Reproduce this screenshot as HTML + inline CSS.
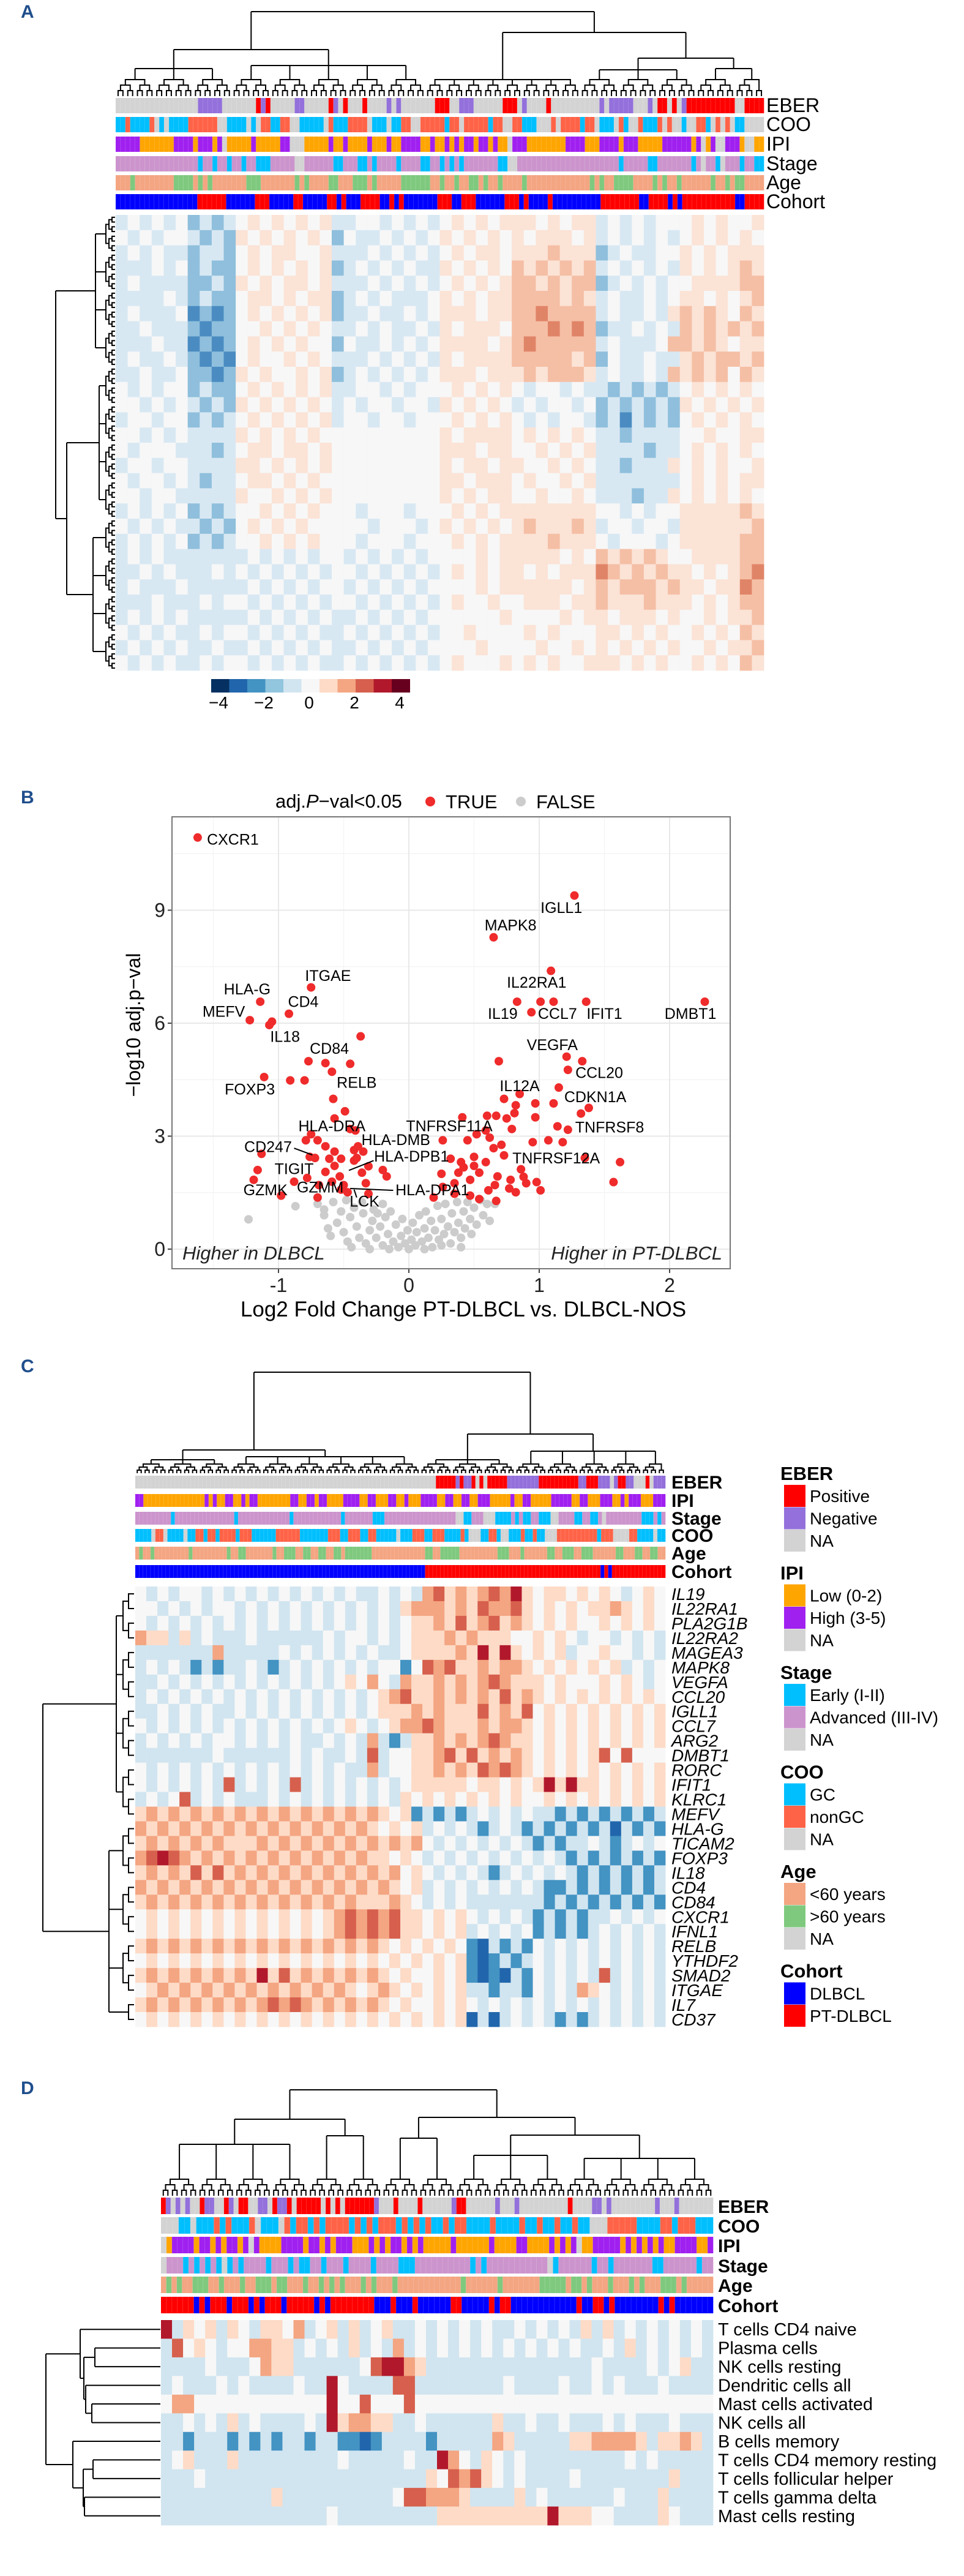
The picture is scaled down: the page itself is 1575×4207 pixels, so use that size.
<!DOCTYPE html>
<html><head><meta charset="utf-8">
<style>
html,body{margin:0;padding:0;background:#fff;}
svg{display:block;font-family:"Liberation Sans",Arial,sans-serif;}
</style></head>
<body>
<svg id="fig" width="1575" height="4207" viewBox="0 0 1575 4207" xmlns="http://www.w3.org/2000/svg">
<rect x="0" y="0" width="1575" height="4207" fill="#fff"/>
</svg>
<script>
// ================= DATA =================
const aEBER="g17 p5 g7 r1 p1 r1 g5 p2 g5 r1 p1 g1 r1 g3 r1 g4 p1 g1 p1 g7 r3 g2 p3 g6 r3 g1 p1 g4 r1 g10 p1 g1 p5 g3 p1 g1 r2 g1 r1 g1 p1 r10 g2 r4";
const aCOO="c2 o1 c4 o1 g1 c1 g1 c4 o6 g2 c4 g1 c1 g1 o2 c2 o2 g2 c5 g1 o1 c3 o4 g1 c3 g1 c2 o2 g2 o5 c1 o2 g1 o5 c1 o2 g2 o2 c3 g3 o1 g1 o4 c1 o2 g1 c3 g1 o1 c1 g2 o1 c3 o1 g1 o1 g2 c1 g2 o2 c1 g1 o1 g1 o1 g1 c2 g4";
const aIPI="h5 l7 h4 l1 h3 l1 h1 g1 l5 h1 l5 h2 g3 l5 h1 l2 h1 l4 h1 l3 h1 l2 h4 l2 h1 l2 h1 l1 h1 l1 h2 l1 h2 l1 h1 l2 g1 h3 l8 h4 l3 h4 l1 h3 l5 h6 l1 h1 g1 l1 h1 g2 h3 l1 g2 l2";
const aStage="a17 e1 a2 e1 a2 e1 a2 e1 a2 e3 a5 g2 a6 e2 a3 e2 a1 e1 a4 e1 a4 e2 a2 e1 a1 e1 a1 e1 a7 e2 g2 a21 e1 a5 e2 a7 e1 a1 g1 a2 e1 g1 a3 e1 a2 e2";
const aAge="y3 o1 y8 o4 y1 o1 y1 o1 y7 o3 y7 o1 y1 o1 y4 o2 y3 o3 y1 o1 y5 o6 y2 o1 y2 o1 y2 o2 y1 o1 y2 o1 y4 o1 y13 o1 y1 o1 y2 o4 y4 o1 y1 o1 y2 o1 y6 o1 y2 o1 y1 o2 y4";
const aCohort="b17 r6 b6 r3 b5 r2 b5 r2 b1 r1 b3 r4 b2 r1 b1 r1 b7 r3 b2 r3 b6 r3 b1 r1 b4 r1 b10 r8 b2 r4 b1 r1 b1 r11 b2 r4";
const aHeat=[
"343434232345454545334434343454545554545534343444545 45",
"434344323254545454243343434545454545554534343434545454",
"343433233245455445333434343454554555655523433445454555",
"333434232245454545234343433545454656565634343435454565",
"343333223254545545333434343454545665656623434344555566",
"333343232245545455234343334545455666656534334345545456",
"343334121245454545233433434555455667666634334356565 65",
"334333212244545454334343343545554666767623343436565656",
"333433121245454544243343434555545676666634333466565 55",
"343343212145445454333434343545555666665624334335656656",
"334334221254544545234343434555455565666534334365656 65",
"434344232245454545334434344454545434434332323234545454",
"443434323254545454343443443545454343443423232325454545",
"344344232345454545344344344454545434344323132324545454",
"443434333354545454444444444545555454545433233334454455",
"434443332345545545444444444555455445454533332334545454",
"344344333355454545444444444545545544545433233354545445",
"434434323345545454444444444554555454454533333334545455",
"443443333354454545444444444545455445445433323354545454",
"343434232344545454443444344454545555555544343445555565",
"434343323245454544444344434545454565556534434435555556",
"343434232344545454443444344454545555655543444345555566",
"343433333334343434434343434444545555545465656544555566",
"334343334343434343443434343454545545455576565655454567",
"343334333334343434434343434444545555554565666565545576",
"333433343443434343443434343454454455545565556555454566",
"343434333334343434334343434444445444454554555454454556",
"434343343443434343343434343445444454544455454544545465",
"343434334334343434334343434444544445445454545454454556",
"434343343443434343343434343454445454544555454544545465"];
const colorbarTicks=[-4,-2,0,2,4];

const sigX=[-1.62,1.27,0.65,1.09,-0.75,-1.14,-0.92,-1.22,-1.07,-1.05,0.83,1.01,1.11,1.36,2.27,0.94,-0.37,-0.77,-0.64,-0.45,-0.59,-1.11,-0.91,-0.80,-0.58,-0.49,-0.57,1.21,1.33,0.69,1.22,1.15,0.85,0.73,0.97,1.11,0.82,1.38,1.32,0.81,0.97,0.75,0.41,0.60,0.67,0.79,1.22,1.14,1.62,1.57,1.35,0.95,1.07,1.18,0.26,0.45,0.62,0.71,0.65,0.59,0.52,0.73,0.86,0.88,0.98,1.01,0.90,0.78,0.66,0.77,0.82,0.61,0.54,0.47,0.38,0.32,0.40,0.50,0.59,0.25,0.35,0.26,0.19,0.35,0.47,0.54,0.67,0.42,0.50,0.68,-0.79,-0.75,-0.70,-0.64,-0.57,-0.52,-0.42,-0.39,-0.35,-0.45,-0.41,-1.13,-1.16,-1.19,-0.98,-0.88,-0.76,-0.72,-0.61,-0.57,-0.64,-0.53,-0.42,-0.40,-0.36,-0.31,-0.20,-0.17,-0.78,-0.69,-0.59,-0.50,-0.33,-0.47,-0.70,-0.31,-0.52];
const sigY=[10.93,9.39,8.28,7.39,6.95,6.57,6.25,6.08,5.95,6.04,6.57,6.57,6.57,6.57,6.57,6.29,5.65,4.99,4.94,4.92,4.71,4.57,4.48,4.48,3.99,3.66,3.47,5.11,4.99,4.99,4.76,4.29,4.12,3.99,3.87,3.87,3.82,3.75,3.60,3.61,3.50,3.47,3.50,3.54,3.54,3.19,3.17,3.26,2.31,1.78,2.42,2.84,2.89,2.84,2.89,2.89,2.96,2.77,2.68,3.15,3.05,2.49,2.12,1.92,1.78,1.56,1.75,1.84,1.70,1.61,1.51,1.56,2.03,1.84,2.03,2.40,2.31,2.45,2.31,2.00,1.75,1.65,1.37,1.47,1.42,1.33,1.28,2.17,2.21,1.93,2.89,3.05,2.89,2.73,2.59,2.40,2.63,2.73,2.59,3.19,3.15,2.53,2.10,1.84,1.42,1.79,2.45,2.42,2.40,2.21,2.05,1.93,2.35,2.42,2.03,2.20,2.10,1.93,1.89,1.70,1.79,1.70,1.75,1.51,1.37,1.47,1.58];
const nsX=[-1.23,-0.87,-0.62,-0.60,-0.55,-0.52,-0.50,-0.47,-0.45,-0.42,-0.40,-0.38,-0.35,-0.33,-0.30,-0.28,-0.27,-0.25,-0.22,-0.20,-0.18,-0.16,-0.14,-0.12,-0.10,-0.08,-0.06,-0.05,-0.03,-0.01,0.00,0.02,0.03,0.05,0.06,0.08,0.10,0.12,0.13,0.15,0.17,0.18,0.20,0.22,0.23,0.25,0.27,0.28,0.30,0.32,0.33,0.35,0.37,0.38,0.40,0.42,0.43,0.45,0.47,0.48,0.50,0.52,0.55,0.57,0.60,0.62,0.66,-0.58,-0.65,-0.70,-0.48,-0.36,-0.20,-0.44,-0.15,0.12,0.25,-0.30,0.40,-0.65,-0.24];
const nsY=[0.79,1.14,0.55,0.35,0.70,1.00,0.45,0.20,0.85,1.10,0.60,0.30,0.95,0.15,0.50,0.75,1.05,0.30,0.60,0.10,0.85,0.40,1.00,0.20,0.65,0.05,0.35,0.80,0.15,0.50,0.00,0.25,0.70,0.10,0.45,0.90,0.20,0.55,1.00,0.30,0.75,0.05,0.50,1.15,0.25,0.80,0.40,1.20,0.60,0.15,0.95,0.45,1.25,0.70,0.30,1.00,0.55,1.25,0.80,0.40,1.10,0.65,1.30,0.90,1.20,0.75,1.20,1.25,0.90,1.20,1.30,1.25,1.20,0.05,0.00,0.00,0.10,0.00,0.05,1.05,0.95];
const lblNames=["CXCR1","IGLL1","MAPK8","IL22RA1","ITGAE","HLA-G","CD4","MEFV","IL18","IL19","CCL7","IFIT1","DMBT1","CD84","VEGFA","CCL20","FOXP3","RELB","IL12A","CDKN1A","HLA-DRA","TNFRSF11A","TNFRSF8","HLA-DMB","CD247","HLA-DPB1","TNFRSF12A","TIGIT","GZMK","GZMM","HLA-DPA1","LCK"];
const lblX=[-1.35,1.17,0.78,0.98,-0.62,-1.24,-0.81,-1.42,-0.95,0.72,1.14,1.50,2.16,-0.61,1.10,1.46,-1.22,-0.40,0.85,1.43,-0.59,0.31,1.54,-0.10,-1.08,0.02,1.13,-0.88,-1.10,-0.68,0.18,-0.34];
const lblY=[10.89,9.07,8.61,7.09,7.27,6.91,6.58,6.32,5.65,6.26,6.26,6.26,6.26,5.33,5.43,4.69,4.25,4.43,4.34,4.05,3.28,3.28,3.24,2.91,2.72,2.47,2.42,2.14,1.58,1.65,1.58,1.28];
const leadX1=[-0.88,-0.27,-0.12,-0.40], leadY1=[2.68,2.35,1.56,1.37];
const leadX2=[-0.74,-0.46,-0.45,-0.42], leadY2=[2.50,2.09,1.61,1.58];
const xMajor=[-1,0,1,2], xMinor=[-1.5,-0.5,0.5,1.5];
const yMajor=[0,3,6,9], yMinor=[1.5,4.5,7.5,10.5];

const cEBER="g76 r5 p1 r1 p2 r1 g1 r1 g1 r5 p2 p6 r10 p2 r3 p3 g1 p1 r2 p2 g3 r1 g1 p3";
const cIPI="h2 l15 h1 l1 h1 l2 h2 l2 h1 l1 h2 l3 l5 h2 l2 h2 l1 h2 l4 h4 l2 h2 l3 h2 l2 h1 l3 h4 l2 h2 l2 h2 l2 h3 l2 l3 h1 l2 h2 l5 h5 l2 h2 l3 h3 l2 h1 l1 h3 l3 h3";
const cStage="a9 e1 a15 e1 a13 e1 a12 e1 a7 e3 a18 g2 e2 a3 g3 e4 a1 e1 a1 e2 a2 e3 g2 a4 e2 a2 e2 a1 g1 a9 e3 a1 e1 a1";
const cCOO="c4 g1 o2 g1 c4 g1 c2 o2 c1 o2 c1 o4 c1 o3 c6 o6 c7 o3 c1 c1 o3 c2 o2 c3 c2 g1 c3 o3 c2 o3 c4 o1 c1 g3 c2 o2 c1 g2 c3 o1 c2 o1 c2 g3 o10 c1 o3 g4 o2 c1 c3 g1 c2";
const cAge="y1 o1 y2 o1 y9 o1 y9 o1 y2 o2 y7 o1 y2 o3 y2 o2 y2 o2 y2 o2 y1 o7 y14 o2 y2 o5 y10 o3 y3 o1 y6 o2 y2 o3 y2 o3 y6 o2 y3 o2 y2 o2 y2";
const cCohort="b76 r46 b1 r1 b1 r14";
const cGenes=["IL19","IL22RA1","PLA2G1B","IL22RA2","MAGEA3","MAPK8","VEGFA","CCL20","IGLL1","CCL7","ARG2","DMBT1","RORC","IFIT1","KLRC1","MEFV","HLA-G","TICAM2","FOXP3","IL18","CD4","CD84","CXCR1","IFNL1","RELB","YTHDF2","SMAD2","ITGAE","IL7","CD37"];
const cHeat=[
"434344343434343434343343436756567685455454543454",
"443434344343434343434343566656576675454545565454",
"434343434343434343434343455657567565454544545454",
"655353433343333334344343455565655544545434434343",
"333333363333343434343433455556585854545344544343",
"343432323343234343434344247675565665454545453434",
"334343434343434343454643655656567655545444545434",
"343434343434343434343456755656565756545454545454",
"334343433434343434343455565655575657454545454545",
"434343434343434343454345667655565665454545454545",
"343434344343434334343632355656567655454545454545",
"333333343333334343343734455675756565454545747444",
"434343434343434343433634455656576765454545454545",
"434343437343437343434343455555455454585855454545",
"343473434333434343434343545454545454454545454545",
"565656565656565656565654523232343434332323232323",
"656565656565656565656545453434323432323232313232",
"565656565556565656565656564343434343232334323434",
"678765656565656565656554543434343434343232323232",
"565657575656565656565656454343432343434323232323",
"656565656565656565656565453434343434322323232323",
"565656565656565656565556543434333333323232323232",
"454545454545454545676767554545434343232323343434",
"454545454545454545676767554545343434232323434343",
"565656565656565656565654545454213232434343434343",
"454545454545454545454545454545212323434343434343",
"565656565658575656565654544545212132434343734343",
"456565656565656565654565454545332332434365434343",
"565656565656767656565654544545434343434343434343",
"454545454545454545454545454545131343432323434343"];
const legTitles=["EBER","IPI","Stage","COO","Age","Cohort"];
const legLabels=[["Positive","Negative","NA"],["Low (0-2)","High (3-5)","NA"],["Early (I-II)","Advanced (III-IV)","NA"],["GC","nonGC","NA"],["<60 years",">60 years","NA"],["DLBCL","PT-DLBCL"]];
const legColors=[["#ff0000","#9370db","#d3d3d3"],["#ffa500","#a020f0","#d3d3d3"],["#00bfff","#cc94cc","#d3d3d3"],["#00bfff","#ff6347","#d3d3d3"],["#f4a582","#7fc97f","#d3d3d3"],["#0000ff","#ff0000"]];

const dEBER="r1 p1 g1 p1 g1 p1 g2 r1 p2 g2 r1 p1 g1 r2 g2 p2 g1 r1 p2 r1 g1 r5 g1 r1 g1 r1 g1 r6 p1 g3 r1 g4 r1 g6 p1 r2 g6 p1 g3 p1 g10 r1 g4 p2 g1 p1 g9 p1 g3 p1 g7";
const dCOO="g3 c2 g1 c3 o1 c1 o1 c3 o1 g1 c3 g1 o1 c1 o2 c1 o1 c1 o4 c1 o1 c1 o1 c1 o3 c1 o1 c1 o1 c1 o1 c2 o1 c1 o2 c1 c3 o1 c4 o1 c2 o1 c2 o1 c2 o1 c2 g3 o5 c4 o2 c1 o3 c2 c1";
const dIPI="g1 l1 h4 l1 h2 l1 h1 l1 h2 l1 h1 g1 h1 l4 h4 l1 h2 l1 h1 l1 h3 l3 h1 l1 h1 l1 h2 l1 h1 l1 h1 l5 h1 l6 h1 l4 h2 l4 h1 l1 h1 l1 h1 g1 l2 h5 l1 h1 l1 h1 l1 h1 l1 h1 l2 h4 l2 h1";
const dStage="g1 a3 e1 a1 e1 a1 e1 a1 e1 g1 e1 a1 e1 a4 e1 a3 e1 a1 e2 a2 e1 a3 e1 a1 a3 e1 a4 e3 a10 e1 a1 e1 a11 g1 e1 a6 e1 a2 e1 a7 e2 a6 e1 a2";
const dAge="y1 o1 y1 o1 y2 o3 y2 o1 y3 o1 y2 o3 y1 o2 y3 o1 y2 o1 y1 o1 y1 o1 y3 o1 y1 o1 y3 o1 y12 o1 y6 o1 y7 o5 y1 o2 y1 o1 y3 o1 y3 o1 y1 o1 y3 o3 y1 o1 y5";
const dCohort="r6 b1 r1 b1 r3 b1 r3 b1 r1 b1 r3 b1 r5 b1 r1 b1 r8 b3 r1 b3 r1 b6 r2 b5 r1 b1 r2 b10 b2 r1 b2 r2 b1 r1 b8 r1 b1 r1 b7";
const dCells=["T cells CD4 naive","Plasma cells","NK cells resting","Dendritic cells all","Mast cells activated","NK cells all","B cells memory","T cells CD4 memory resting","T cells follicular helper","T cells gamma delta","Mast cells resting"];
const dHeat=[
"83545354355463453534533434343433434343535343434343",
"37454344665534343534363434343434343434334353434343",
"33334333465533333347886533333333333333343333434533",
"34333434333343384333377333333334333343343433343333",
"46644444444444484474447444444444444444444444444444",
"33434353433334385665533433333353343343334343334333",
"33233323232332332212333323333365333335566665355653",
"34533353333333334333334338643543433333333343433333",
"33343333333333333333333354767543433334333333335333",
"33333333335333333333347766653333534333333433353333",
"33333333333333343333333335555555555855544333354333"];

// ================= HELPERS =================
const NS="http://www.w3.org/2000/svg";
const svg=document.getElementById("fig");
const PAL={"0":"#053061","1":"#2166ac","2":"#4393c3","3":"#d1e5f0","4":"#f7f7f7","5":"#fddbc7","6":"#f4a582","7":"#d6604d","8":"#b2182b","9":"#67001f"," ":"#f7f7f7"};
const PAL_A={"0":"#053061","1":"#4a8cc2","2":"#8fbfdc","3":"#d8e8f3","4":"#f7f7f7","5":"#fbe3d6","6":"#f5bfa5","7":"#e08468","8":"#b2182b","9":"#67001f"," ":"#f7f7f7"};
const CM={EBER:{r:"#ff0000",p:"#9370db",g:"#d3d3d3"},COO:{c:"#00bfff",o:"#ff6347",g:"#d3d3d3"},IPI:{l:"#ffa500",h:"#a020f0",g:"#d3d3d3"},Stage:{e:"#00bfff",a:"#cc94cc",g:"#d3d3d3"},Age:{y:"#f4a582",o:"#7fc97f",g:"#d3d3d3"},Cohort:{b:"#0000ff",r:"#ff0000"}};
function mk(tag,parent){const e=document.createElementNS(NS,tag);(parent||svg).appendChild(e);return e;}
function at(e,o){for(const k in o)e.setAttribute(k,o[k]);return e;}
function runs(s){const out=[];s.trim().split(/\s+/).forEach(t=>{const c=t[0],n=+t.slice(1);for(let i=0;i<n;i++)out.push(c);});return out;}
function group(name){const g=mk("g");return g;}
function text(g,s,x,y,size,extra){const t=mk("text",g);at(t,{x:x,y:y,"font-size":size,fill:"#000"});if(extra)at(t,extra);t.textContent=s;return t;}

function drawAnnot(g,str,cmap,x0,x1,y,h,name){
  const codes=runs(str);const cw=(x1-x0)/codes.length;let i=0;
  while(i<codes.length){let j=i;while(j<codes.length&&codes[j]===codes[i])j++;
    const r=mk("rect",g);at(r,{x:x0+i*cw,y:y,width:(j-i)*cw+0.3,height:h,fill:cmap[codes[i]]||"#d3d3d3"});
    
    
    i=j;}
  for(let k=1;k<codes.length;k++){const l=mk("line",g);at(l,{x1:x0+k*cw,x2:x0+k*cw,y1:y,y2:y+h,stroke:"#fff","stroke-opacity":0.25,"stroke-width":0.6});
    
    }
  return codes.length;
}
function drawHeat(g,rows,x0,x1,y0,y1,pal){
  const rh=(y1-y0)/rows.length;
  rows.forEach((row,r)=>{const cw=(x1-x0)/row.length;
    for(let c=0;c<row.length;c++){const e=mk("rect",g);at(e,{x:x0+c*cw,y:y0+r*rh,width:cw+0.4,height:rh+0.4,fill:(pal||PAL)[row[c]]});
      
      }});
}
function seg(g,d){const p=mk("path",g);at(p,{d:d,fill:"none",stroke:"#000","stroke-width":2});
  
  }
function pt(horiz,p,d){return horiz?(d+" "+p):(p+" "+d);}
function comb(g,a0,a1,n,base,levels,step,horiz,dir){
  const cw=(a1-a0)/n;let nodes=[];for(let i=0;i<n;i++)nodes.push({p:a0+(i+0.5)*cw,d:base});
  let path="";
  for(let l=0;l<levels;l++){const nd=base-dir*step*(l+1);const nx=[];
    for(let i=0;i<nodes.length;i+=2){
      if(i+1<nodes.length){const A=nodes[i],B=nodes[i+1];
        path+="M"+pt(horiz,A.p,A.d)+"L"+pt(horiz,A.p,nd)+"L"+pt(horiz,B.p,nd)+"L"+pt(horiz,B.p,B.d);
        nx.push({p:(A.p+B.p)/2,d:nd});}
      else nx.push(nodes[i]);}
    nodes=nx;}
  seg(g,path);return nodes;
}
function join(g,nodes,target,horiz){
  let path="";let mn=1e9,mx=-1e9;
  nodes.forEach(n=>{path+="M"+pt(horiz,n.p,n.d)+"L"+pt(horiz,n.p,target);mn=Math.min(mn,n.p);mx=Math.max(mx,n.p);});
  path+="M"+pt(horiz,mn,target)+"L"+pt(horiz,mx,target);seg(g,path);
  return {p:(mn+mx)/2,d:target};
}
function pick(nodes,lo,hi){return nodes.filter(n=>n.p>=lo&&n.p<hi);}

[["A",29],["B",1312],["C",2241],["D",3420]].forEach(([s,y])=>{
  const t=text(svg,s,34,y,30,{"font-weight":"bold",fill:"#1f4e8c"});
  
  
});

// ================= PANEL A =================
(function(){
  const g=group("panel-a-heatmap");
  const X0=189,X1=1248;
  const dg=group("panel-a-column-dendrogram");
  const leaves=comb(dg,X0,X1,134,157,3,9,false,1);
  const LL=join(dg,pick(leaves,0,370),112,false);
  const LR=join(dg,pick(leaves,370,700),107,false);
  const L=join(dg,[LL,LR],81,false);
  const R1=join(dg,pick(leaves,700,960),130,false);
  const R2a=join(dg,pick(leaves,960,1110),114,false);
  const R2b=join(dg,pick(leaves,1110,2000),112,false);
  const R2=join(dg,[R2a,R2b],95,false);
  const R=join(dg,[R1,R2],53,false);
  join(dg,[L,R],19,false);
  const names=["EBER","COO","IPI","Stage","Age","Cohort"];
  const strs=[aEBER,aCOO,aIPI,aStage,aAge,aCohort];
  const ys=[160,191,223,255,286,317];
  names.forEach((n,i)=>{
    const ag=group("panel-a-annotation-"+n.toLowerCase());
    drawAnnot(ag,strs[i],CM[n],X0,X1,ys[i],25,"panel-a-"+n.toLowerCase());
    const t=text(svg,n,1252,ys[i]+23,32);
    
    
  });
  drawHeat(g,aHeat,X0,X1,351,1095,PAL_A);
  const rg=group("panel-a-row-dendrogram");
  const rn=comb(rg,351,1095,96,188,3,5,true,1);
  const G1=join(rg,pick(rn,0,620),156,true);
  const G2=join(rg,pick(rn,620,850),162,true);
  const G3=join(rg,pick(rn,850,2000),152,true);
  const G23=join(rg,[G2,G3],109,true);
  join(rg,[G1,G23],91,true);
  const cb=group("panel-a-colorbar");
  const cbCols=["#053061","#2166ac","#4393c3","#92c5de","#d1e5f0","#f7f7f7","#fddbc7","#f4a582","#d6604d","#b2182b","#67001f"];
  cbCols.forEach((c,i)=>{const r=mk("rect",cb);at(r,{x:345+i*29.5,y:1109,width:30,height:22,fill:c});
    
    });
  colorbarTicks.forEach(v=>{const t=text(cb,(v<0?"\u2212":"")+Math.abs(v),505+37*v,1157,28,{"text-anchor":"middle"});
    
    });
})();

// ================= PANEL B =================
(function(){
  const xS=d=>668+213*d, yS=d=>2040-61.5*d;
  const L=281,R=1193,T=1334,B=2072;
  const g=group("panel-b-volcano");
  xMinor.forEach(v=>{const l=mk("line",g);at(l,{x1:xS(v),x2:xS(v),y1:T,y2:B,stroke:"#f3f3f3","stroke-width":1.2});
    
    });
  yMinor.forEach(v=>{const l=mk("line",g);at(l,{x1:L,x2:R,y1:yS(v),y2:yS(v),stroke:"#f3f3f3","stroke-width":1.2});
    
    });
  xMajor.forEach(v=>{const l=mk("line",g);at(l,{x1:xS(v),x2:xS(v),y1:T,y2:B,stroke:"#e8e8e8","stroke-width":2});
    
    
    const tk=mk("line",g);at(tk,{x1:xS(v),x2:xS(v),y1:B,y2:B+7,stroke:"#444","stroke-width":2});
    
    
    const t=text(g,v<0?"-"+Math.abs(v):String(v),xS(v),2110,32,{"text-anchor":"middle",fill:"#222"});
    
    });
  yMajor.forEach(v=>{const l=mk("line",g);at(l,{x1:L,x2:R,y1:yS(v),y2:yS(v),stroke:"#e8e8e8","stroke-width":2});
    
    
    const tk=mk("line",g);at(tk,{x1:L-7,x2:L,y1:yS(v),y2:yS(v),stroke:"#444","stroke-width":2});
    
    
    const t=text(g,String(v),270,yS(v)+11,32,{"text-anchor":"end",fill:"#222"});
    
    });
  nsX.forEach((x,i)=>{const c=mk("circle",g);at(c,{cx:xS(x),cy:yS(nsY[i]),r:7,fill:"#cccccc"});
    
    });
  sigX.forEach((x,i)=>{const c=mk("circle",g);at(c,{cx:xS(x),cy:yS(sigY[i]),r:7,fill:"#ef2b2b"});
    
    });
  leadX1.forEach((x,i)=>{const l=mk("line",g);at(l,{x1:xS(x),y1:yS(leadY1[i]),x2:xS(leadX2[i]),y2:yS(leadY2[i]),stroke:"#000","stroke-width":2});
    
    });
  lblNames.forEach((n,i)=>{const t=text(g,n,xS(lblX[i]),yS(lblY[i])+9,25,{"text-anchor":"middle"});
    
    });
  const box=mk("rect",g);at(box,{x:L,y:T,width:R-L,height:B-T,fill:"none",stroke:"#777","stroke-width":2});
  
  
  const h1=text(g,"Higher in DLBCL",298,2057,31,{"font-style":"italic","fill":"#222"});
  
  
  const h2=text(g,"Higher in PT-DLBCL",1180,2057,31,{"font-style":"italic","text-anchor":"end","fill":"#222"});
  
  
  const xt=text(g,"Log2 Fold Change PT-DLBCL vs. DLBCL-NOS",757,2150,35,{"text-anchor":"middle"});
  
  
  const yt=text(g,"\u2212log10 adj.p\u2212val",0,0,32,{"text-anchor":"middle",transform:"translate(229,1674) rotate(-90)"});
  
  
  const lg=group("panel-b-legend");
  const lt=mk("text",lg);at(lt,{x:450,y:1319,"font-size":31});
  
  
  lt.innerHTML='adj.<tspan font-style="italic">P</tspan>\u2212val&lt;0.05';
  const d1=mk("circle",lg);at(d1,{cx:703,cy:1309,r:8,fill:"#ef2b2b"});
  
  
  const t1=text(lg,"TRUE",728,1320,31);
  
  
  const d2=mk("circle",lg);at(d2,{cx:851,cy:1309,r:8,fill:"#cccccc"});
  
  
  const t2=text(lg,"FALSE",876,1320,31);
  
  
})();

// ================= PANEL C =================
(function(){
  const X0=221,X1=1087;
  const dg=group("panel-c-column-dendrogram");
  const lv=comb(dg,X0,X1,134,2406,3,5,false,1);
  const LL=join(dg,pick(lv,0,400),2384,false);
  const LR=join(dg,pick(lv,400,693),2379,false);
  const L=join(dg,[LL,LR],2368,false);
  const RL=join(dg,pick(lv,693,830),2384,false);
  const RR=join(dg,pick(lv,830,2000),2370,false);
  const Rn=join(dg,[RL,RR],2342,false);
  join(dg,[L,Rn],2241,false);
  const names=["EBER","IPI","Stage","COO","Age","Cohort"];
  const strs=[cEBER,cIPI,cStage,cCOO,cAge,cCohort];
  const ys=[2410,2440,2469,2497,2526,2556];
  names.forEach((n,i)=>{
    const ag=group("panel-c-annotation-"+n.toLowerCase());
    drawAnnot(ag,strs[i],CM[n],X0,X1,ys[i],21,"panel-c-"+n.toLowerCase());
    const t=text(svg,n,1097,ys[i]+21,30,{"font-weight":"bold"});
    
    
  });
  const hg=group("panel-c-heatmap");
  drawHeat(hg,cHeat,X0,X1,2591,3310);
  const rh=(3310-2591)/cGenes.length;
  cGenes.forEach((n,i)=>{const t=text(svg,n,1097,2591+rh*(i+0.5)+10,28,{"font-style":"italic"});
    
    });
  const rg=group("panel-c-row-dendrogram");
  const rn=comb(rg,2591,3310,30,219,2,9,true,1);
  const U=join(rg,pick(rn,2591,2951),190,true);
  const D=join(rg,pick(rn,2951,3400),178,true);
  join(rg,[U,D],70,true);
  const lg=group("panel-c-legend");
  let y=2407;
  legTitles.forEach((tt,gi)=>{
    const t=text(lg,tt,1275,y+10,31,{"font-weight":"bold"});
    
    
    y+=18;
    legLabels[gi].forEach((lb,k)=>{
      const r=mk("rect",lg);at(r,{x:1281,y:y,width:35,height:36,fill:legColors[gi][k]});
      
      
      const tx=text(lg,lb,1323,y+28,28);
      
      
      y+=36.5;});
    y+=35;
  });
})();

// ================= PANEL D =================
(function(){
  const X0=263,X1=1165;
  const dg=group("panel-d-column-dendrogram");
  const lv=comb(dg,X0,X1,120,3586,3,9,false,1);
  const LL=join(dg,pick(lv,0,485),3502,false);
  const LR=join(dg,pick(lv,485,630),3488,false);
  const L=join(dg,[LL,LR],3461,false);
  const RL=join(dg,pick(lv,630,760),3492,false);
  const RRa=join(dg,pick(lv,760,945),3520,false);
  const RRb=join(dg,pick(lv,945,2000),3525,false);
  const RR=join(dg,[RRa,RRb],3487,false);
  const Rn=join(dg,[RL,RR],3458,false);
  join(dg,[L,Rn],3413,false);
  const names=["EBER","COO","IPI","Stage","Age","Cohort"];
  const strs=[dEBER,dCOO,dIPI,dStage,dAge,dCohort];
  const ys=[3589,3621,3653,3686,3718,3751];
  names.forEach((n,i)=>{
    const ag=group("panel-d-annotation-"+n.toLowerCase());
    drawAnnot(ag,strs[i],CM[n],X0,X1,ys[i],27,"panel-d-"+n.toLowerCase());
    const t=text(svg,n,1173,ys[i]+25,30,{"font-weight":"bold"});
    
    
  });
  const hg=group("panel-d-heatmap");
  drawHeat(hg,dHeat,X0,X1,3789,4124);
  const rh=(4124-3789)/dCells.length;
  const rc=dCells.map((n,i)=>3789+rh*(i+0.5));
  dCells.forEach((n,i)=>{const t=text(svg,n,1173,rc[i]+10,29);
    
    });
  const rg=group("panel-d-row-dendrogram");
  const lf=rc.map(p=>({p:p,d:262}));
  const n12=join(rg,[lf[1],lf[2]],155,true);
  const n45=join(rg,[lf[4],lf[5]],150,true);
  const n345=join(rg,[lf[3],n45],140,true);
  const n15=join(rg,[n12,n345],137,true);
  const up=join(rg,[lf[0],n15],131,true);
  const n78=join(rg,[lf[7],lf[8]],152,true);
  const n910=join(rg,[lf[9],lf[10]],138,true);
  const n710=join(rg,[n78,n910],136,true);
  const lo=join(rg,[lf[6],n710],119,true);
  join(rg,[up,lo],75,true);
})();
</script>
</body></html>
